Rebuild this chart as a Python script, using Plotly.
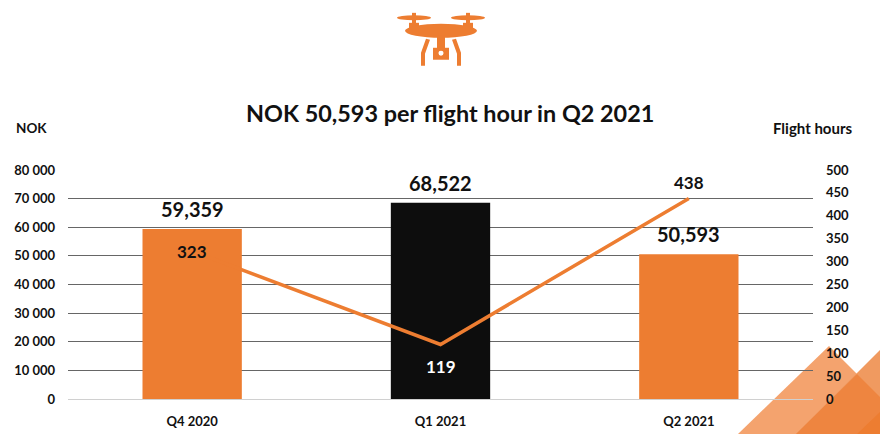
import plotly.graph_objects as go

categories = ["Q4 2020", "Q1 2021", "Q2 2021"]
nok_per_hour = [59359, 68522, 50593]
flight_hours = [323, 119, 438]
bar_colors = ["#ED7D31", "#0D0D0D", "#ED7D31"]
left_ticks = [0, 10000, 20000, 30000, 40000, 50000, 60000, 70000, 80000]
right_ticks = [0, 50, 100, 150, 200, 250, 300, 350, 400, 450, 500]
title_text = "NOK 50,593 per flight hour in Q2 2021"
hour_label_colors = ["#111111", "#FFFFFF", "#111111"]
hour_label_shift = [0, -22, 16]

W, H = 880, 434
L, R, T, B = 68, 67, 169.5, 35
FONT = "Lato"
ORANGE = "#ED7D31"


def px(x):
    return (x - L) / (W - L - R)


def py(y):
    return (H - B - y) / (H - T - B)


def path(points):
    return "M " + " L ".join(f"{px(x):.5f},{py(y):.5f}" for x, y in points) + " Z"


def deco(points, color, layer="below"):
    return dict(type="path", xref="paper", yref="paper", path=path(points),
                fillcolor=color, line=dict(width=0), layer=layer)


def box(x0, y0, x1, y1, color=ORANGE):
    return dict(type="rect", xref="paper", yref="paper", x0=px(x0), x1=px(x1),
                y0=py(y1), y1=py(y0), fillcolor=color, line=dict(width=0), layer="above")


def oval(x0, y0, x1, y1, color=ORANGE):
    d = box(x0, y0, x1, y1, color)
    d["type"] = "circle"
    return d


shapes = [
    deco([(738, 434), (829, 346), (880, 397), (880, 434)], "#F4A36E"),
    deco([(796, 434), (880, 350), (880, 434)], "#F09A60"),
    deco([(796, 434), (857, 374), (880, 397), (880, 434)], "#EE8540"),
    deco([(857, 434), (880, 412), (880, 434)], ORANGE),
    # drone icon
    oval(397, 14.5, 431, 19.5), oval(451, 14.5, 485, 19.5),
    box(412, 12, 416, 28), box(466, 12, 470, 28),
    box(409, 22, 419, 28), box(463, 22, 473, 28),
    oval(405, 23, 477, 37),
    box(437, 35, 445, 48),
    box(433, 47, 449, 59),
    oval(438.5, 50, 443.5, 55, "#FFFFFF"),
    deco([(426, 38), (430, 39), (425, 53), (425, 65), (421, 65), (421, 52)], ORANGE, "above"),
    deco([(456, 38), (452, 39), (457, 53), (457, 65), (461, 65), (461, 52)], ORANGE, "above"),
]

fig = go.Figure()
fig.add_bar(
    x=categories, y=nok_per_hour, marker=dict(color=bar_colors, line=dict(width=0)),
    hoverinfo="x+y", yaxis="y",
)
fig.add_scatter(
    x=categories, y=flight_hours, mode="lines", yaxis="y2",
    line=dict(color=ORANGE, width=3.5), cliponaxis=False,
)

hour_labels = [
    dict(text=f"<b>{v}</b>", x=c, y=v, xref="x", yref="y2", yshift=s, showarrow=False,
         xanchor="center", yanchor="middle", font=dict(family=FONT, size=17, color=col))
    for c, v, s, col in zip(categories, flight_hours, hour_label_shift, hour_label_colors)
]
bar_labels = [
    dict(text=f"<b>{v:,}</b>", x=c, y=v, xref="x", yref="y", yshift=20, showarrow=False,
         xanchor="center", yanchor="middle", font=dict(family=FONT, size=20, color="#111111"))
    for c, v in zip(categories, nok_per_hour)
]

tick_font = dict(family=FONT, size=13, color="#111111", weight="bold")
fig.update_layout(
    width=W, height=H, autosize=False,
    margin=dict(l=L, r=R, t=T, b=B, pad=0, autoexpand=False),
    paper_bgcolor="white", plot_bgcolor="white",
    showlegend=False, bargap=0.6, shapes=shapes,
    font=dict(family=FONT),
    xaxis=dict(type="category", tickfont=tick_font, showgrid=False, ticks="",
               showline=True, linecolor="#D0D0D0", linewidth=1,
               ticklabelstandoff=10, automargin=False),
    yaxis=dict(range=[0, 80000], tickvals=left_ticks, ticktext=[f"{v:,}".replace(",", " ") for v in left_ticks],
               tickfont=tick_font, showgrid=True, gridcolor="#666666", gridwidth=1,
               zeroline=False, ticks="", showline=False, ticklabelstandoff=12, automargin=False),
    yaxis2=dict(range=[0, 500], tickvals=right_ticks, overlaying="y", side="right",
                tickfont=tick_font, showgrid=False, zeroline=False, ticks="", showline=False,
                ticklabelstandoff=12, automargin=False),
    annotations=bar_labels + hour_labels + [
        dict(text=f"<b>{title_text}</b>", xref="paper", yref="paper", x=px(450), y=py(112),
             xanchor="center", yanchor="middle", showarrow=False,
             font=dict(family=FONT, size=23.4, color="#111111")),
        dict(text="<b>NOK</b>", xref="paper", yref="paper", x=px(14), y=py(127),
             xanchor="left", yanchor="middle", showarrow=False,
             font=dict(family=FONT, size=13.5, color="#111111")),
        dict(text="<b>Flight hours</b>", xref="paper", yref="paper", x=px(855), y=py(127),
             xanchor="right", yanchor="middle", showarrow=False,
             font=dict(family=FONT, size=15, color="#111111")),
    ],
)
fig.write_html("out.html", config={"displayModeBar": False},
               post_script="document.body.style.margin='0';document.body.style.overflow='hidden';")
